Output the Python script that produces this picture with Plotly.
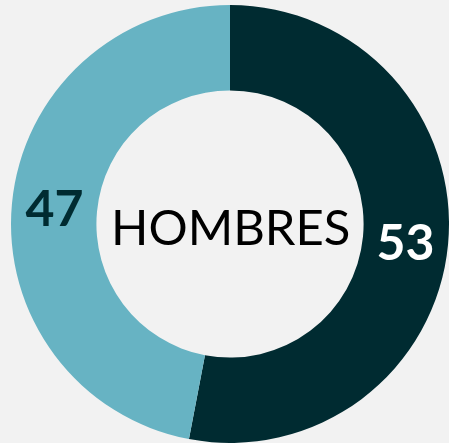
import plotly.graph_objects as go

labels = ["Hombres", "Mujeres"]
values = [53, 47]
colors = ["#002b31", "#67b3c3"]
text_colors = ["#ffffff", "#002b31"]
center_label = "HOMBRES"

W, H = 449, 443
cx, cy, r = 230, 224, 219

fig = go.Figure(go.Pie(
    labels=labels,
    values=values,
    hole=0.61,
    sort=False,
    direction="clockwise",
    rotation=0,
    marker=dict(colors=colors, line=dict(width=0)),
    textinfo="value",
    textposition="inside",
    insidetextorientation="horizontal",
    insidetextfont=dict(family="Lato", size=50, color=text_colors, weight="bold", shadow="none"),
    domain=dict(x=[(cx - r) / W, (cx + r) / W], y=[(H - cy - r) / H, (H - cy + r) / H]),
    showlegend=False,
    hoverinfo="skip",
))

fig.add_annotation(
    x=cx / W, y=(H - 226) / H, xref="paper", yref="paper",
    text=center_label, showarrow=False,
    font=dict(family="Lato", size=49, color="#000000"),
)

fig.update_layout(
    width=W, height=H,
    margin=dict(l=0, r=0, t=0, b=0),
    paper_bgcolor="#f2f2f2",
    plot_bgcolor="#f2f2f2",
)

fig.write_html(
    "out.html",
    config={"displayModeBar": False},
    post_script="document.body.style.margin='0';document.body.style.overflow='hidden';",
)
